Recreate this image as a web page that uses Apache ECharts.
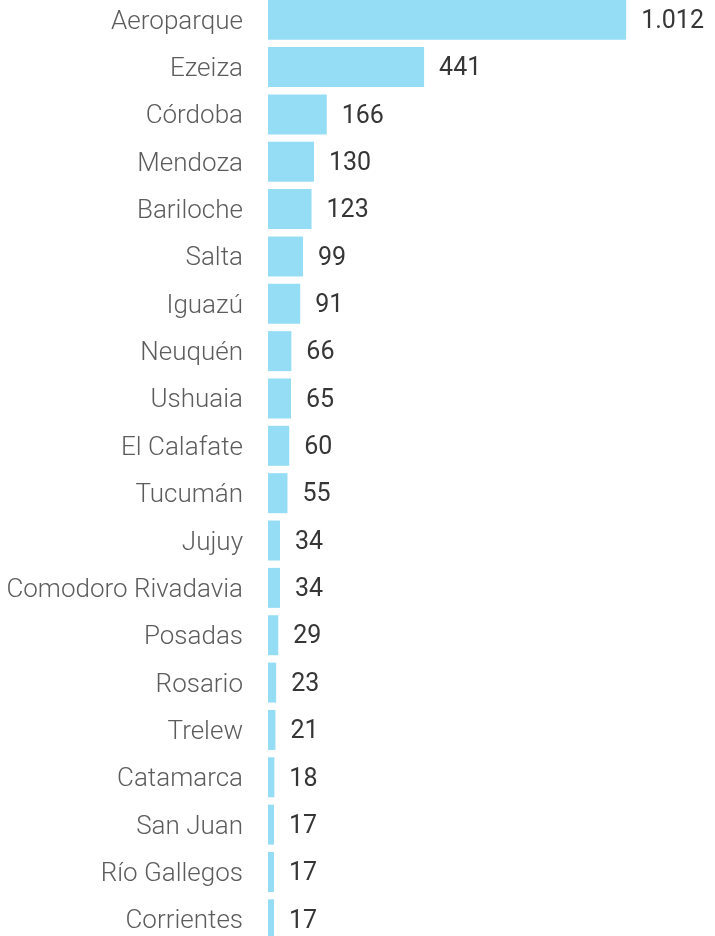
<!DOCTYPE html>
<html>
<head>
<meta charset="utf-8">
<script src="https://cdn.jsdelivr.net/npm/echarts@6/dist/echarts.min.js"></script>
<style>
  html, body { margin: 0; padding: 0; background: #fff; overflow: hidden; }
  #wrap { position: relative; width: 715px; height: 936px; overflow: hidden; }
  #chart { position: absolute; left: 0; top: -4px; width: 715px; height: 947px; }
</style>
</head>
<body>
<div id="wrap"><div id="chart"></div></div>
<script>
// Airports, top to bottom
const airports = [
  'Aeroparque', 'Ezeiza', 'Córdoba', 'Mendoza', 'Bariloche', 'Salta', 'Iguazú',
  'Neuquén', 'Ushuaia', 'El Calafate', 'Tucumán', 'Jujuy', 'Comodoro Rivadavia',
  'Posadas', 'Rosario', 'Trelew', 'Catamarca', 'San Juan', 'Río Gallegos', 'Corrientes'
];
const passengers = [1012, 441, 166, 130, 123, 99, 91, 66, 65, 60, 55, 34, 34, 29, 23, 21, 18, 17, 17, 17];

const fmt = v => v.toLocaleString('es-AR');

const chart = echarts.init(document.getElementById('chart'), null, { renderer: 'canvas' });
chart.setOption({
  animation: false,
  grid: { left: 268, right: 0, top: 0, bottom: 0, containLabel: false },
  xAxis: {
    type: 'value', min: 0, max: 1263,
    show: false
  },
  yAxis: {
    type: 'category',
    data: airports,
    inverse: true,
    axisLine: { show: false },
    axisTick: { show: false },
    axisLabel: {
      margin: 25,
      formatter: name => '{n|' + name + '}',
      rich: {
        n: {
          color: '#5c5c5c',
          fontFamily: 'Roboto',
          fontWeight: 300,
          fontSize: 26,
          padding: [5, 0, 0, 0]
        }
      }
    }
  },
  series: [{
    type: 'bar',
    data: passengers,
    barWidth: 40,
    itemStyle: { color: '#95ddf5' },
    label: {
      show: true,
      position: 'right',
      distance: 15,
      offset: [0, 2],
      color: '#363636',
      fontFamily: 'Roboto',
      fontWeight: 400,
      fontSize: 25,
      formatter: p => fmt(p.value)
    }
  }]
});
</script>
</body>
</html>
